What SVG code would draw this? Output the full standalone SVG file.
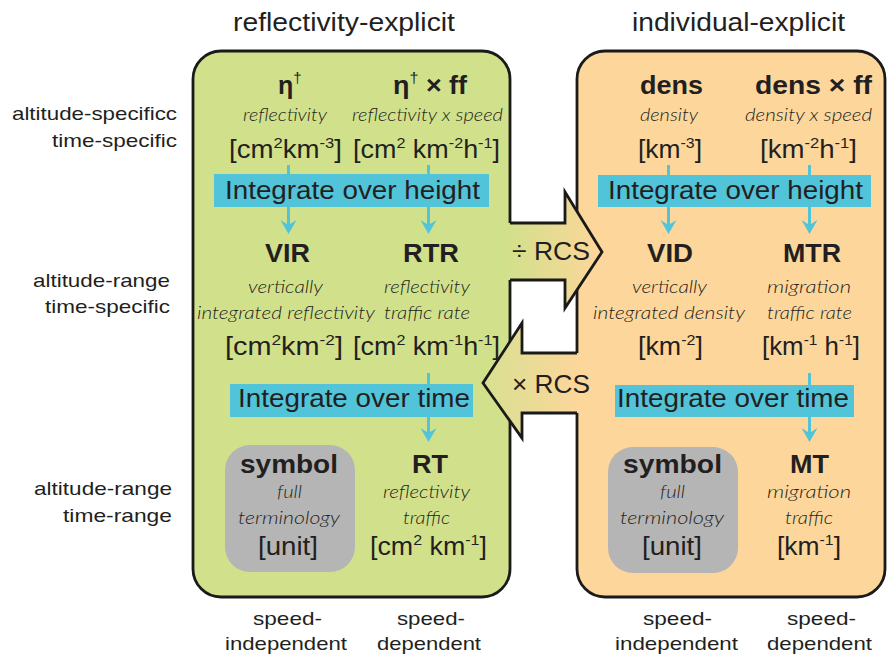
<svg xmlns="http://www.w3.org/2000/svg" width="887" height="658" viewBox="0 0 887 658">
<defs>
<style>
.t{font-family:"Liberation Sans",Arial,Helvetica,sans-serif;fill:#231f20}
.b{font-weight:bold;font-size:25px}
.i{font-family:Lato,"Open Sans","Liberation Sans",sans-serif;font-style:italic;font-weight:300;font-size:18px;fill:#231f20}
.u{font-size:25px}
.sup{font-size:15px}
.lab{font-size:19px}
.ttl{font-size:26px}
.panel{stroke:#1a1a1a;stroke-width:2.8}
.bar{fill:#51c4da}
.key{fill:#b5b5b5}
.cl{stroke:#51c4da;stroke-width:3;fill:none;marker-end:url(#ah)}
.edge{fill:none;stroke:#1a1a1a;stroke-width:2.8;stroke-linejoin:miter}
</style>
<marker id="ah" markerUnits="userSpaceOnUse" markerWidth="20" markerHeight="20" viewBox="0 -10 20 20" refX="5" refY="0" orient="auto">
<path d="M0,-8 L14,0 L0,8 L5,0 Z" fill="#51c4da"/>
</marker>
<linearGradient id="gR" gradientUnits="userSpaceOnUse" x1="508" y1="0" x2="598" y2="0">
<stop offset="0" stop-color="#d2e08b"/><stop offset="1" stop-color="#fcd69a"/>
</linearGradient>
<linearGradient id="gL" gradientUnits="userSpaceOnUse" x1="488" y1="0" x2="580" y2="0">
<stop offset="0" stop-color="#d9e092"/><stop offset="1" stop-color="#fdd69b"/>
</linearGradient>
</defs>
<rect width="887" height="658" fill="#fff"/>

<g id="titles" class="t">
<text class="ttl" x="233" y="31" textLength="222" lengthAdjust="spacingAndGlyphs">reflectivity-explicit</text>
<text class="ttl" x="632" y="31" textLength="213" lengthAdjust="spacingAndGlyphs">individual-explicit</text>
</g>

<g id="row-labels" class="t lab">
<text x="12" y="120" textLength="165" lengthAdjust="spacingAndGlyphs">altitude-specificc</text>
<text x="52" y="147" textLength="125" lengthAdjust="spacingAndGlyphs">time-specific</text>
<text x="33" y="287" textLength="137" lengthAdjust="spacingAndGlyphs">altitude-range</text>
<text x="45" y="313" textLength="125" lengthAdjust="spacingAndGlyphs">time-specific</text>
<text x="34" y="495" textLength="138" lengthAdjust="spacingAndGlyphs">altitude-range</text>
<text x="63" y="522" textLength="109" lengthAdjust="spacingAndGlyphs">time-range</text>
</g>

<g id="panel-reflectivity">
<rect class="panel" x="193" y="51" width="317" height="546" rx="28" fill="#d1e18b"/>
</g>
<g id="panel-individual">
<rect class="panel" x="577" y="51" width="308" height="546" rx="28" fill="#fdd69b"/>
</g>

<g id="rcs-arrows">
<polygon points="506,223 565,223 565,192 602,252 565,308 565,280 506,280" fill="url(#gR)"/>
<path class="edge" d="M510,223 H565 V192 L602,252 L565,308 V280 H510"/>
<polygon points="581,353 522,353 522,323 483,383 522,438 522,413 581,413" fill="url(#gL)"/>
<path class="edge" d="M577,353 H522 V323 L483,383 L522,438 V413 H577"/>
<text class="t u" x="512" y="260" textLength="78" lengthAdjust="spacingAndGlyphs">÷ RCS</text>
<text class="t u" x="512" y="393" textLength="78" lengthAdjust="spacingAndGlyphs">× RCS</text>
</g>

<g id="connectors">
<path class="cl" d="M288.5,165 V225"/>
<path class="cl" d="M428.5,165 V225"/>
<path class="cl" d="M428.5,373 V433"/>
<path class="cl" d="M668.5,165 V225"/>
<path class="cl" d="M809.5,165 V225"/>
<path class="cl" d="M809.5,373 V433"/>
</g>

<g id="bars" class="t u">
<rect class="bar" x="214" y="174" width="275" height="33"/>
<text x="225" y="199" textLength="255" lengthAdjust="spacingAndGlyphs">Integrate over height</text>
<rect class="bar" x="230" y="384" width="243" height="33"/>
<text x="238" y="407" textLength="232" lengthAdjust="spacingAndGlyphs">Integrate over time</text>
<rect class="bar" x="598" y="175" width="273" height="32"/>
<text x="608" y="199" textLength="255" lengthAdjust="spacingAndGlyphs">Integrate over height</text>
<rect class="bar" x="615" y="385" width="239" height="32"/>
<text x="617" y="407" textLength="232" lengthAdjust="spacingAndGlyphs">Integrate over time</text>
</g>

<g id="node-eta">
<text class="t b" x="278" y="94">η<tspan class="sup" font-weight="normal" dy="-11">†</tspan></text>
<text class="i" x="243" y="121" textLength="84" lengthAdjust="spacingAndGlyphs">reflectivity</text>
<text class="t u" x="229" y="158" textLength="113" lengthAdjust="spacingAndGlyphs">[cm<tspan class="sup" dy="-10">2</tspan><tspan dy="10">km</tspan><tspan class="sup" dy="-10">-3</tspan><tspan dy="10">]</tspan></text>
</g>
<g id="node-eta-ff">
<text class="t b" x="393" y="94" textLength="74" lengthAdjust="spacingAndGlyphs">η<tspan class="sup" font-weight="normal" dy="-11">†</tspan><tspan dy="11"> × ff</tspan></text>
<text class="i" x="352" y="121" textLength="151" lengthAdjust="spacingAndGlyphs">reflectivity x speed</text>
<text class="t u" x="353" y="158" textLength="147" lengthAdjust="spacingAndGlyphs">[cm<tspan class="sup" dy="-10">2</tspan><tspan dy="10"> km</tspan><tspan class="sup" dy="-10">-2</tspan><tspan dy="10">h</tspan><tspan class="sup" dy="-10">-1</tspan><tspan dy="10">]</tspan></text>
</g>
<g id="node-VIR">
<text class="t b" x="265" y="262" textLength="45" lengthAdjust="spacingAndGlyphs">VIR</text>
<text class="i" x="248" y="293" textLength="75" lengthAdjust="spacingAndGlyphs">vertically</text>
<text class="i" x="197" y="319" textLength="178" lengthAdjust="spacingAndGlyphs">integrated reflectivity</text>
<text class="t u" x="225" y="355" textLength="118" lengthAdjust="spacingAndGlyphs">[cm<tspan class="sup" dy="-10">2</tspan><tspan dy="10">km</tspan><tspan class="sup" dy="-10">-2</tspan><tspan dy="10">]</tspan></text>
</g>
<g id="node-RTR">
<text class="t b" x="403" y="262" textLength="56" lengthAdjust="spacingAndGlyphs">RTR</text>
<text class="i" x="384" y="293" textLength="86" lengthAdjust="spacingAndGlyphs">reflectivity</text>
<text class="i" x="384" y="319" textLength="86" lengthAdjust="spacingAndGlyphs">traffic rate</text>
<text class="t u" x="353" y="355" textLength="147" lengthAdjust="spacingAndGlyphs">[cm<tspan class="sup" dy="-10">2</tspan><tspan dy="10"> km</tspan><tspan class="sup" dy="-10">-1</tspan><tspan dy="10">h</tspan><tspan class="sup" dy="-10">-1</tspan><tspan dy="10">]</tspan></text>
</g>
<g id="key-left">
<rect class="key" x="225" y="445" width="130" height="127" rx="25"/>
<text class="t b" x="240" y="473" textLength="98" lengthAdjust="spacingAndGlyphs">symbol</text>
<text class="i" x="277" y="498" textLength="25" lengthAdjust="spacingAndGlyphs">full</text>
<text class="i" x="238" y="524" textLength="102" lengthAdjust="spacingAndGlyphs">terminology</text>
<text class="t u" x="258" y="555" textLength="60" lengthAdjust="spacingAndGlyphs">[unit]</text>
</g>
<g id="node-RT">
<text class="t b" x="412" y="473" textLength="36" lengthAdjust="spacingAndGlyphs">RT</text>
<text class="i" x="383" y="498" textLength="87" lengthAdjust="spacingAndGlyphs">reflectivity</text>
<text class="i" x="403" y="524" textLength="47" lengthAdjust="spacingAndGlyphs">traffic</text>
<text class="t u" x="370" y="555" textLength="117" lengthAdjust="spacingAndGlyphs">[cm<tspan class="sup" dy="-10">2</tspan><tspan dy="10"> km</tspan><tspan class="sup" dy="-10">-1</tspan><tspan dy="10">]</tspan></text>
</g>

<g id="node-dens">
<text class="t b" x="640" y="94" textLength="63" lengthAdjust="spacingAndGlyphs">dens</text>
<text class="i" x="640" y="121" textLength="58" lengthAdjust="spacingAndGlyphs">density</text>
<text class="t u" x="638" y="158" textLength="64" lengthAdjust="spacingAndGlyphs">[km<tspan class="sup" dy="-10">-3</tspan><tspan dy="10">]</tspan></text>
</g>
<g id="node-dens-ff">
<text class="t b" x="755" y="94" textLength="117" lengthAdjust="spacingAndGlyphs">dens × ff</text>
<text class="i" x="745" y="121" textLength="127" lengthAdjust="spacingAndGlyphs">density x speed</text>
<text class="t u" x="760" y="158" textLength="97" lengthAdjust="spacingAndGlyphs">[km<tspan class="sup" dy="-10">-2</tspan><tspan dy="10">h</tspan><tspan class="sup" dy="-10">-1</tspan><tspan dy="10">]</tspan></text>
</g>
<g id="node-VID">
<text class="t b" x="647" y="262" textLength="46" lengthAdjust="spacingAndGlyphs">VID</text>
<text class="i" x="632" y="293" textLength="75" lengthAdjust="spacingAndGlyphs">vertically</text>
<text class="i" x="593" y="319" textLength="152" lengthAdjust="spacingAndGlyphs">integrated density</text>
<text class="t u" x="638" y="355" textLength="65" lengthAdjust="spacingAndGlyphs">[km<tspan class="sup" dy="-10">-2</tspan><tspan dy="10">]</tspan></text>
</g>
<g id="node-MTR">
<text class="t b" x="783" y="262" textLength="58" lengthAdjust="spacingAndGlyphs">MTR</text>
<text class="i" x="767" y="293" textLength="84" lengthAdjust="spacingAndGlyphs">migration</text>
<text class="i" x="767" y="319" textLength="85" lengthAdjust="spacingAndGlyphs">traffic rate</text>
<text class="t u" x="762" y="355" textLength="98" lengthAdjust="spacingAndGlyphs">[km<tspan class="sup" dy="-10">-1</tspan><tspan dy="10"> h</tspan><tspan class="sup" dy="-10">-1</tspan><tspan dy="10">]</tspan></text>
</g>
<g id="key-right">
<rect class="key" x="608" y="447" width="130" height="126" rx="25"/>
<text class="t b" x="623" y="473" textLength="99" lengthAdjust="spacingAndGlyphs">symbol</text>
<text class="i" x="660" y="498" textLength="25" lengthAdjust="spacingAndGlyphs">full</text>
<text class="i" x="620" y="524" textLength="104" lengthAdjust="spacingAndGlyphs">terminology</text>
<text class="t u" x="642" y="555" textLength="60" lengthAdjust="spacingAndGlyphs">[unit]</text>
</g>
<g id="node-MT">
<text class="t b" x="790" y="473" textLength="39" lengthAdjust="spacingAndGlyphs">MT</text>
<text class="i" x="767" y="498" textLength="84" lengthAdjust="spacingAndGlyphs">migration</text>
<text class="i" x="785" y="524" textLength="48" lengthAdjust="spacingAndGlyphs">traffic</text>
<text class="t u" x="777" y="555" textLength="64" lengthAdjust="spacingAndGlyphs">[km<tspan class="sup" dy="-10">-1</tspan><tspan dy="10">]</tspan></text>
</g>

<g id="column-labels" class="t lab">
<text x="253" y="625" textLength="69" lengthAdjust="spacingAndGlyphs">speed-</text>
<text x="225" y="650" textLength="122" lengthAdjust="spacingAndGlyphs">independent</text>
<text x="397" y="625" textLength="68" lengthAdjust="spacingAndGlyphs">speed-</text>
<text x="377" y="650" textLength="104" lengthAdjust="spacingAndGlyphs">dependent</text>
<text x="643" y="625" textLength="69" lengthAdjust="spacingAndGlyphs">speed-</text>
<text x="615" y="650" textLength="123" lengthAdjust="spacingAndGlyphs">independent</text>
<text x="787" y="625" textLength="69" lengthAdjust="spacingAndGlyphs">speed-</text>
<text x="767" y="650" textLength="105" lengthAdjust="spacingAndGlyphs">dependent</text>
</g>
</svg>
